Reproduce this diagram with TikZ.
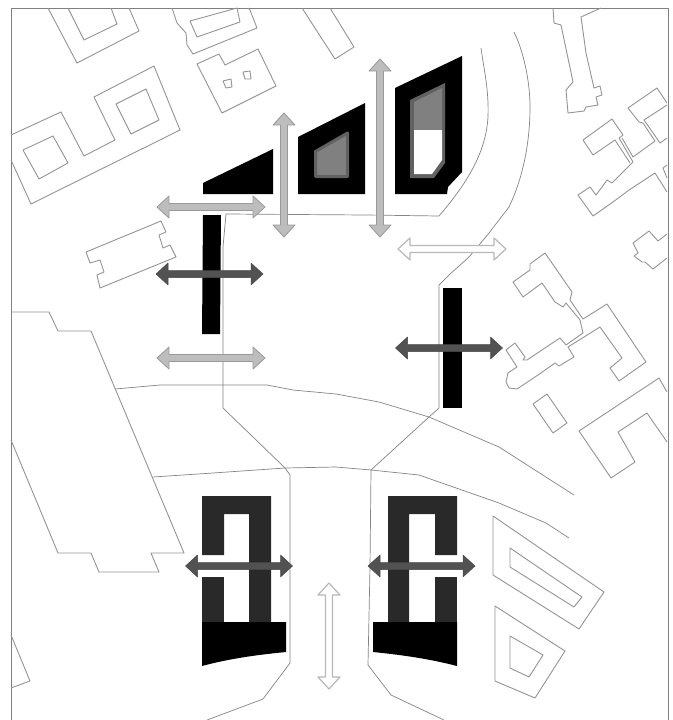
\documentclass[tikz,border=0pt]{standalone}
\newcommand{\fatarrow}[4]{\draw[#1,shift={(#2)},rotate=#3] (-#4,0)--(-#4+12,11)--(-#4+12,3.5)--(#4-12,3.5)--(#4-12,11)--(#4,0)--(#4-12,-11)--(#4-12,-3.5)--(-#4+12,-3.5)--(-#4+12,-11)--cycle;}
\begin{document}
\begin{tikzpicture}[x=1pt,y=-1pt,line join=round,
  outline/.style={draw=black!42,line width=0.9pt},
  road/.style={draw=black!48,line width=0.7pt},
  mass/.style={fill=black},
  wing/.style={fill=black!84},
  corebox/.style={fill=black!50,draw=black!62,line width=3pt},
  arrowdark/.style={fill=black!68,draw=black!72,line width=0.5pt},
  arrowlight/.style={fill=black!26,draw=black!40,line width=0.8pt},
  arrowwhite/.style={fill=white,draw=black!28,line width=1.2pt}]
\useasboundingbox (0,0) rectangle (672,720);
\fill[white] (0,0) rectangle (672,720);
\draw[black!50,line width=1pt] (11,720)--(11,8)--(668,8)--(668,720);
% buildings, top left
\draw[outline] (48,8)--(77,63)--(139,31)--(129,8);
\draw[outline] (68,8)--(84,40)--(117,24)--(111,8);
\draw[outline] (11,135)--(61,112)--(84,156)--(115,140)--(94,97)--(154,66)--(180,130)--(31,204)--(11,160);
\draw[outline] (23,150)--(53,136)--(68,163)--(39,179)--cycle;
\draw[outline] (116,104)--(146,89)--(159,120)--(131,134)--cycle;
\draw[outline] (172,8)--(177,23)--(186,33)--(187,45)--(193,54)--(257,28)--(250,10)--(248,8);
\draw[outline] (190,21)--(237,8)--(240,22)--(197,37)--cycle;
\draw[outline] (197,64)--(219,54)--(225,65)--(258,49)--(276,86)--(222,113)--cycle;
\draw[outline] (223,81)--(231,79)--(232,87)--(226,88)--cycle;
\draw[outline] (243,72)--(250,71)--(251,79)--(245,79)--cycle;
\draw[outline] (302,8)--(335,59)--(354,47)--(330,8);
\draw[outline] (86,252)--(161,221)--(166,232)--(159,235)--(163,248)--(170,245)--(176,257)--(100,288)--(97,275)--(104,272)--(100,260)--(90,263)--cycle;
% large block, left
\draw[outline] (11,312)--(49,312)--(58,331)--(91,331)--(184,553)--(151,553)--(159,572)--(99,572)--(91,553)--(58,553)--(11,440);
\draw[outline] (11,635)--(30,681)--(11,688);
% buildings, right
\draw[outline] (553,8)--(554,23)--(561,25)--(573,82)--(566,90)--(568,113)--(584,111)--(586,107)--(598,105)--(596,97)--(602,95)--(600,86)--(594,88)--(586,53)--(581,17)--(601,8);
\draw[outline] (583,140)--(612,119)--(623,135)--(619,138)--(633,162)--(618,177)--(612,183)--(607,180)--(602,187)--(596,195)--(590,187)--(578,195)--(593,216)--(603,209)--(613,202)--(629,190)--(655,173)--(667,192);
\draw[outline] (583,140)--(593,155)--(615,140)--(630,163);
\draw[outline] (667,103)--(657,88)--(628,108)--(639,122)--(643,123)--(655,141)--(633,157)--(622,138);
\draw[outline] (667,105)--(644,120)--(660,143)--(667,138);
\draw[outline] (667,165)--(663,168)--(667,178);
\draw[outline] (667,234)--(658,241)--(649,231)--(633,243)--(638,253)--(634,256)--(642,262)--(645,262)--(653,269)--(667,258);
\draw[outline] (513,282)--(530,270)--(530,264)--(545,253)--(572,292)--(570,300)--(583,319)--(607,304)--(646,362)--(619,381)--(610,368)--(622,358)--(600,327)--(568,347)--(574,357)--(559,366)--(555,363)--(538,375)--(517,389)--(509,388)--(506,382)--(508,373)--(517,367)--(506,350)--(515,343)--(525,357)--(523,360)--(527,360)--(560,338)--(566,345)--(583,333)--(580,320)--(566,303)--(563,307)--(555,302)--(542,283)--(523,297)--cycle;
\draw[outline] (667,392)--(659,378)--(579,431)--(611,478)--(635,462)--(618,432)--(647,413)--(667,442);
\draw[outline] (533,404)--(547,394)--(567,423)--(553,433)--cycle;
\draw[outline] (493,516)--(604,592)--(579,629)--(493,575)--cycle;
\draw[outline] (510,548)--(582,597)--(574,607)--(510,567)--cycle;
\draw[outline] (495,606)--(565,651)--(535,698)--(495,681)--cycle;
\draw[outline] (510,636)--(543,655)--(529,677)--(510,668)--cycle;
% roads
\draw[road] (226,214)--(366,215)--(439,216)..controls (470,180) and (486,150)..(488,117)..controls (489,90) and (484,70)..(481,48);
\draw[road] (226,214)--(223,247)--(223,408)--(285,468);
\draw[road] (115,389)--(160,385)--(267,385)--(293,390)--(336,394)--(379,402)--(429,417)--(499,447)--(574,495);
\draw[road] (153,477)--(213,473)--(285,468)--(336,467)--(371,470)--(419,475)--(499,503)--(546,523)--(569,538);
\draw[road] (285,468)--(290,475)--(290,663)--(263,699)--(207,720);
\draw[road] (371,470)--(370,567)--(368,665)--(391,695)--(444,720);
\draw[road] (371,470)--(429,417)--(439,408)--(439,285)--(449,275)--(469,257)--(489,233)--(509,207)..controls (522,180) and (530,145)..(530,107)..controls (530,80) and (523,50)..(514,32);
% blocks, north
\fill[mass] (203,183)--(273,149)--(273,194)--(203,194)--cycle;
\fill[mass] (298,137)--(365,103)--(365,194)--(298,194)--cycle;
\draw[corebox] (315.5,151.5)--(347.5,133)--(347.5,176.5)--(315.5,176.5)--cycle;
\fill[mass] (395,88)--(462,56)--(462,172)--(448,187)--(447,194)--(395,194)--cycle;
\fill[black!62] (410,100)--(445,83)--(445,163)--(434,178)--(410,178)--cycle;
\fill[black!50] (414,102)--(442,88)--(442,130)--(414,130)--cycle;
\fill[white] (414,130)--(442,130)--(442,160)--(432,174)--(414,174)--cycle;
\fill[mass] (203,215)--(221,215)--(220,334)--(202,334)--cycle;
\fill[mass] (443,288)--(462,288)--(462,408)--(443,408)--cycle;
% blocks, south
\fill[wing] (202,496)--(271,496)--(271,622)--(249,622)--(249,514)--(224,514)--(224,555)--(202,555)--cycle;
\fill[wing] (202,577)--(224,577)--(224,622)--(202,622)--cycle;
\fill[mass] (202,622)--(286,622)--(286,652)..controls (255,655) and (228,659)..(202,666)--cycle;
\fill[wing] (388,496)--(457,496)--(457,555)--(435,555)--(435,514)--(409,514)--(409,622)--(388,622)--cycle;
\fill[wing] (435,577)--(457,577)--(457,622)--(435,622)--cycle;
\fill[mass] (373,622)--(457,622)--(457,666)..controls (430,659) and (403,655)..(373,652)--cycle;
% arrows
\foreach \cx/\cy in {209.5/274,449/348,239/566,421.5/566}
    {\fatarrow{arrowdark}{\cx,\cy}{0}{53.5}}
\fatarrow{arrowlight}{211,207}{0}{54}
\fatarrow{arrowlight}{211,358}{0}{54}
\fatarrow{arrowlight}{284,175}{90}{62}
\fatarrow{arrowlight}{380,148}{90}{89}
\fatarrow{arrowwhite}{452,249}{0}{54}
\fatarrow{arrowwhite}{329,636}{90}{53}
\end{tikzpicture}
\end{document}
